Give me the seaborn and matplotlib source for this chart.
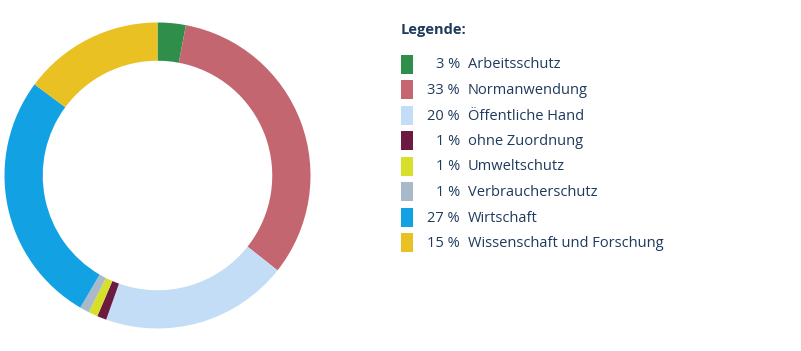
import matplotlib
matplotlib.use("Agg")
import matplotlib.pyplot as plt
from matplotlib.patches import Rectangle
import seaborn as sns

categories = ["Arbeitsschutz", "Normanwendung", "Öffentliche Hand", "ohne Zuordnung",
              "Umweltschutz", "Verbraucherschutz", "Wirtschaft", "Wissenschaft und Forschung"]
values = [3, 33, 20, 1, 1, 1, 27, 15]
colors = ["#2f8f4a", "#c4666f", "#c2ddf5", "#6d1a40", "#d6e02a", "#a9b9c9", "#12a1e2", "#e9c123"]
legend_title = "Legende:"

sns.set_theme(style="white")
plt.rcParams['font.family'] = ['Open Sans', 'DejaVu Sans']

W, H = 801, 351
fig = plt.figure(figsize=(W / 100, H / 100), dpi=100)
fig.patch.set_facecolor("white")

cx, cy, r = 157.5, 175.5, 153
ax = fig.add_axes([(cx - r) / W, (H - cy - r) / H, 2 * r / W, 2 * r / H])
ax.pie(values, colors=colors, startangle=90, counterclock=False, radius=1.0,
       wedgeprops=dict(width=0.25, linewidth=0))
ax.set_xlim(-1, 1)
ax.set_ylim(-1, 1)
ax.set_aspect("equal")
ax.axis("off")

txt_color = "#1e3a5c"
fig.text(400.5 / W, 1 - 30 / H, legend_title, fontsize=10.5, fontweight="bold",
         color=txt_color, ha="left", va="center")

y0, dy = 64.0, 25.5
for i, (cat, val, col) in enumerate(zip(categories, values, colors)):
    yc = y0 + i * dy
    fig.patches.append(Rectangle((400.5 / W, 1 - (yc + 9.5) / H), 12.5 / W, 19 / H,
                                 transform=fig.transFigure, facecolor=col, edgecolor="none"))
    fig.text(460 / W, 1 - (yc + 1) / H, f"{val} %", fontsize=10.5, color=txt_color,
             ha="right", va="center")
    fig.text(468 / W, 1 - (yc + 1) / H, cat, fontsize=10.5, color=txt_color,
             ha="left", va="center")

fig.savefig("out.png", dpi=100, facecolor="white")
